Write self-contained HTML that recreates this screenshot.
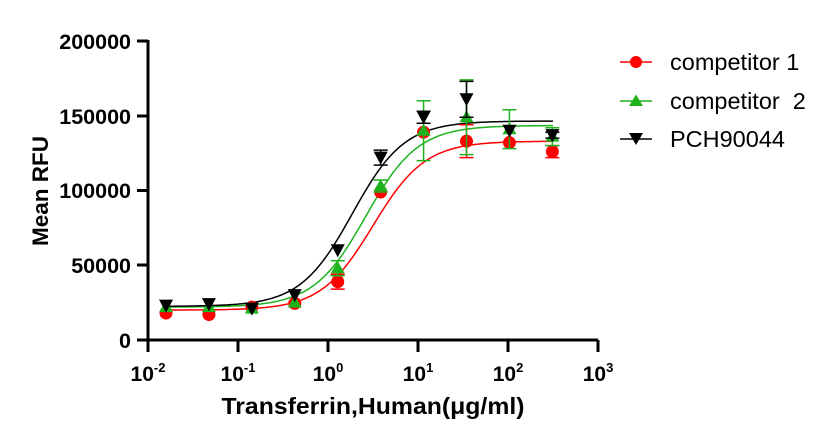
<!DOCTYPE html>
<html><head><meta charset="utf-8"><style>
html,body{margin:0;padding:0;background:#fff;}
svg{display:block;font-family:"Liberation Sans",Arial,sans-serif;}
</style></head><body>
<svg id="s" width="834" height="434" viewBox="0 0 834 434" xmlns="http://www.w3.org/2000/svg">
<g stroke="#000" stroke-width="3" fill="none">
<line x1="148" y1="40" x2="148" y2="341.5"/>
<line x1="146.5" y1="340" x2="598" y2="340"/>
<line x1="137" y1="41" x2="148" y2="41"/>
<line x1="137" y1="116" x2="148" y2="116"/>
<line x1="137" y1="190.5" x2="148" y2="190.5"/>
<line x1="137" y1="265" x2="148" y2="265"/>
<line x1="137" y1="340" x2="148" y2="340"/>
<line x1="148" y1="340" x2="148" y2="352"/>
<line x1="238" y1="340" x2="238" y2="352"/>
<line x1="328" y1="340" x2="328" y2="352"/>
<line x1="418" y1="340" x2="418" y2="352"/>
<line x1="508" y1="340" x2="508" y2="352"/>
<line x1="598" y1="340" x2="598" y2="352"/>
</g>
<g font-size="21.5" font-weight="bold" text-anchor="end" fill="#000">
<text x="131" y="49">200000</text>
<text x="131" y="124">150000</text>
<text x="131" y="198">100000</text>
<text x="131" y="273">50000</text>
<text x="131" y="348">0</text>
</g>
<g font-size="21" font-weight="bold" fill="#000" text-anchor="middle">
<text x="148" y="381">10<tspan font-size="13" dy="-9">-2</tspan></text>
<text x="238" y="381">10<tspan font-size="13" dy="-9">-1</tspan></text>
<text x="328" y="381">10<tspan font-size="13" dy="-9">0</tspan></text>
<text x="418" y="381">10<tspan font-size="13" dy="-9">1</tspan></text>
<text x="508" y="381">10<tspan font-size="13" dy="-9">2</tspan></text>
<text x="598" y="381">10<tspan font-size="13" dy="-9">3</tspan></text>
</g>
<text x="373" y="414" font-size="23" font-weight="bold" text-anchor="middle" textLength="303" lengthAdjust="spacingAndGlyphs">Transferrin,Human(μg/ml)</text>
<text transform="translate(48,191) rotate(-90)" font-size="22.5" font-weight="bold" text-anchor="middle">Mean RFU</text>
<g id="plot"></g>
<g font-size="23.5" fill="#000">
<line x1="620" y1="62" x2="652" y2="62" stroke="#f00" stroke-width="1.5"/><circle cx="636" cy="62" r="6" fill="#f00"/>
<text x="670" y="70">competitor 1</text>
<line x1="620" y1="101" x2="652" y2="101" stroke="#1db31d" stroke-width="1.5"/><polygon points="636,94.5 643,106 629,106" fill="#1db31d"/>
<text x="670" y="109">competitor&#160; 2</text>
<line x1="620" y1="139" x2="652" y2="139" stroke="#000" stroke-width="1.5"/><polygon points="629,133 643,133 636,145" fill="#000"/>
<text x="670" y="147">PCH90044</text>
</g>
</svg>
<script>
var X=function(l){return 148+(l+2)*90;},Y=function(v){return 340-v*299/200000;};
var xs=[];for(var i=0;i<10;i++)xs.push(-1.8+i*0.477);
var S=[
{c:"#f00",b:20000,t:133000,e:0.5,h:1.5,d:[18000,17000,22000,24500,39000,99000,139000,133000,132000,126000],err:[0,0,0,0,5000,0,0,11000,0,4000],m:"c"},
{c:"#1db31d",b:22000,t:143500,e:0.42,h:1.5,d:[22000,22000,21000,25000,48000,103000,140000,149000,141000,136000],err:[0,0,0,0,5000,4000,20000,25000,13000,6000],m:"u"},
{c:"#000",b:22500,t:146500,e:0.27,h:1.5,d:[23000,24000,21000,30000,60000,122000,149000,161000,140000,137000],err:[0,0,0,0,0,5000,4000,12000,0,2000],m:"d"}];
var g="";
S.forEach(function(s){
 var p="";for(var l=-1.8;l<=2.52;l+=0.02){var v=s.b+(s.t-s.b)/(1+Math.pow(10,(s.e-l)*s.h));p+=(p?"L":"M")+X(l).toFixed(1)+","+Y(v).toFixed(1);}
 g+='<path d="'+p+'" fill="none" stroke="'+s.c+'" stroke-width="1.5"/>';
});
S.forEach(function(s){
 s.d.forEach(function(v,i){var x=X(xs[i]),y=Y(v),e=s.err[i];
  if(e){var y1=Y(v+e),y2=Y(v-e);g+='<path d="M'+x+','+y1+'V'+y2+'M'+(x-7)+','+y1+'h14M'+(x-7)+','+y2+'h14" stroke="'+s.c+'" stroke-width="1.5" fill="none"/>';}
  if(s.m=="c")g+='<circle cx="'+x+'" cy="'+y+'" r="6.5" fill="'+s.c+'"/>';
  else if(s.m=="u")g+='<polygon points="'+x+','+(y-7)+' '+(x+7)+','+(y+5)+' '+(x-7)+','+(y+5)+'" fill="'+s.c+'"/>';
  else g+='<polygon points="'+(x-7)+','+(y-6)+' '+(x+7)+','+(y-6)+' '+x+','+(y+7)+'" fill="'+s.c+'"/>';
 });
});
document.getElementById("plot").innerHTML=g;
</script>
</body></html>
